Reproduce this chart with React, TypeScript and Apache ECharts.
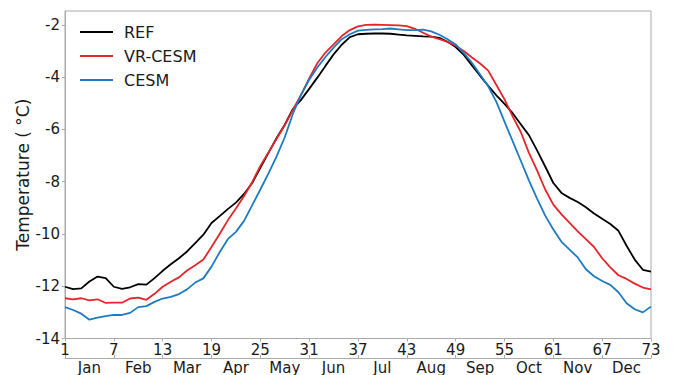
import React, { useEffect, useRef } from "react";
import * as echarts from "echarts";

const pentads: string[] = [
  "1","2","3","4","5","6","7","8","9","10","11","12","13","14","15","16","17","18","19","20",
  "21","22","23","24","25","26","27","28","29","30","31","32","33","34","35","36","37","38","39","40",
  "41","42","43","44","45","46","47","48","49","50","51","52","53","54","55","56","57","58","59","60",
  "61","62","63","64","65","66","67","68","69","70","71","72","73",
];

const months: string[] = ["Jan","Feb","Mar","Apr","May","Jun","Jul","Aug","Sep","Oct","Nov","Dec"];

const refValues: number[] = [
  -12.02, -12.11, -12.08, -11.82, -11.63, -11.69, -12.02, -12.10, -12.04, -11.92,
  -11.94, -11.69, -11.41, -11.16, -10.93, -10.67, -10.35, -10.03, -9.58, -9.32,
  -9.05, -8.80, -8.47, -8.05, -7.47, -6.90, -6.33, -5.82, -5.22, -4.87,
  -4.45, -4.02, -3.57, -3.13, -2.76, -2.47, -2.36, -2.34, -2.33, -2.33,
  -2.34, -2.37, -2.40, -2.42, -2.44, -2.45, -2.50, -2.65, -2.85, -3.15,
  -3.55, -3.95, -4.33, -4.70, -5.02, -5.38, -5.80, -6.22, -6.80, -7.42,
  -8.05, -8.43, -8.62, -8.78, -8.98, -9.22, -9.42, -9.62, -9.88, -10.45,
  -10.98, -11.37, -11.44,
];

const vrCesmValues: number[] = [
  -12.46, -12.50, -12.46, -12.54, -12.50, -12.64, -12.63, -12.63, -12.47, -12.44,
  -12.52, -12.29, -12.02, -11.83, -11.66, -11.40, -11.20, -10.98, -10.50, -10.00,
  -9.48, -9.03, -8.55, -8.02, -7.40, -6.88, -6.36, -5.84, -5.25, -4.68,
  -4.05, -3.47, -3.06, -2.75, -2.43, -2.20, -2.06, -2.00, -1.99, -2.00,
  -2.01, -2.02, -2.05, -2.15, -2.30, -2.45, -2.55, -2.65, -2.80, -3.00,
  -3.25, -3.48, -3.75, -4.30, -4.85, -5.50, -6.10, -6.90, -7.57, -8.30,
  -8.88, -9.25, -9.58, -9.90, -10.20, -10.50, -10.93, -11.28, -11.58, -11.72,
  -11.90, -12.05, -12.12,
];

const cesmValues: number[] = [
  -12.80, -12.91, -13.05, -13.28, -13.20, -13.14, -13.10, -13.10, -13.02, -12.80,
  -12.76, -12.60, -12.47, -12.41, -12.30, -12.12, -11.86, -11.70, -11.25, -10.70,
  -10.20, -9.92, -9.50, -8.90, -8.30, -7.68, -7.03, -6.30, -5.40, -4.68,
  -4.10, -3.63, -3.23, -2.87, -2.55, -2.36, -2.22, -2.19, -2.17, -2.16,
  -2.14, -2.17, -2.20, -2.20, -2.18, -2.25, -2.38, -2.55, -2.75, -3.08,
  -3.45, -3.90, -4.35, -4.95, -5.70, -6.45, -7.20, -7.95, -8.65, -9.30,
  -9.83, -10.30, -10.60, -10.90, -11.35, -11.62, -11.80, -11.95, -12.23, -12.65,
  -12.88, -13.00, -12.78,
];

const FONT = "DejaVu Sans";
const TEXT = "#1a1a1a";
const FRAME = "#aaaaaa";

export default function App() {
  const ref = useRef<HTMLDivElement>(null);

  useEffect(() => {
    if (!ref.current) return;
    const chart = echarts.init(ref.current, undefined, { renderer: "svg" });
    const mk = (name: string, data: number[], color: string) => ({
      name,
      type: "line",
      data,
      xAxisIndex: 0,
      yAxisIndex: 0,
      symbol: "none",
      showSymbol: false,
      smooth: false,
      lineStyle: { color, width: 1.8 },
      itemStyle: { color },
      emphasis: { disabled: true },
    });
    chart.setOption({
      animation: false,
      textStyle: { fontFamily: FONT },
      grid: {
        left: 65,
        right: 24,
        top: 11,
        bottom: 36.5,
        show: true,
        borderColor: FRAME,
        borderWidth: 1,
        containLabel: false,
      },
      legend: {
        left: 80,
        top: 24,
        orient: "vertical",
        padding: 0,
        icon: "rect",
        itemWidth: 33,
        itemHeight: 2,
        itemGap: 8,
        textStyle: { fontSize: 16, color: TEXT, fontFamily: FONT, padding: [0, 0, 0, 6] },
        data: ["REF", "VR-CESM", "CESM"],
      },
      xAxis: [
        {
          type: "category",
          data: pentads,
          boundaryGap: false,
          position: "bottom",
          axisLine: { show: true, lineStyle: { color: FRAME, width: 1 } },
          axisTick: { show: true, interval: 5, length: 3, lineStyle: { color: FRAME } },
          axisLabel: {
            interval: 5,
            fontSize: 15,
            color: TEXT,
            fontFamily: FONT,
            margin: 4,
          },
          splitLine: { show: false },
        },
        {
          type: "category",
          data: months,
          boundaryGap: true,
          position: "bottom",
          offset: 19.5,
          axisLine: { show: true, lineStyle: { color: FRAME, width: 1 } },
          axisTick: { show: true, inside: true, length: 3, lineStyle: { color: FRAME } },
          axisLabel: {
            interval: 0,
            fontSize: 15,
            color: TEXT,
            fontFamily: FONT,
            margin: 2,
          },
          splitLine: { show: false },
        },
      ],
      yAxis: {
        type: "value",
        min: -14,
        max: -1.47,
        interval: 2,
        name: "Temperature ( °C)",
        nameLocation: "middle",
        nameRotate: 90,
        nameGap: 34,
        nameMoveOverlap: false,
        nameTextStyle: { fontSize: 17, color: TEXT, fontFamily: FONT },
        axisLine: { show: true, lineStyle: { color: FRAME } },
        axisTick: { show: true, length: 3, lineStyle: { color: FRAME } },
        axisLabel: {
          fontSize: 15,
          color: TEXT,
          fontFamily: FONT,
          margin: 5,
          showMaxLabel: false,
        },
        splitLine: { show: false },
      },
      series: [
        mk("REF", refValues, "#000000"),
        mk("VR-CESM", vrCesmValues, "#e3262b"),
        mk("CESM", cesmValues, "#1f7bc0"),
      ],
    });
    return () => chart.dispose();
  }, []);

  return <div ref={ref} style={{ width: 675, height: 375, position: "absolute", left: 0, top: 0 }} />;
}
